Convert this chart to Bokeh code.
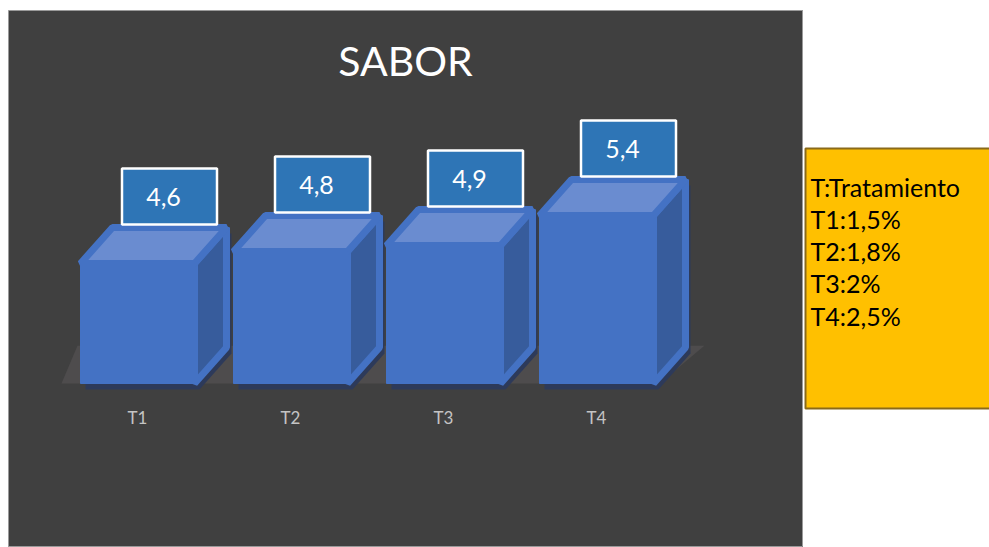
from bokeh.plotting import figure
from bokeh.layouts import row
from bokeh.models import Range1d
from bokeh.core.properties import value
from bokeh.embed import file_html
from bokeh.resources import INLINE

# ---- data ----
title_text = "SABOR"
categories = ["T1", "T2", "T3", "T4"]
values = [4.6, 4.8, 4.9, 5.4]
value_labels = ["4,6", "4,8", "4,9", "5,4"]
legend_lines = ["T:Tratamiento", "T1:1,5%", "T2:1,8%", "T3:2%", "T4:2,5%"]

# ---- layout constants ----
W1, W2, H = 803, 186, 547
LEFT, TOP = 8, 10
PX_X = 153.0   # pixels per category step
PX_Y = 60.0    # pixels per value unit
FLOOR = 2.6    # value at which the 3D floor sits
BASE_PX = 383  # page y of the floor front edge
X1_PX = 137    # page x of first bar centre


def xd(px):
    return 1 + (px - X1_PX) / PX_X


def yd(py):
    return FLOOR + (BASE_PX - py) / PX_Y


HW = 57 / PX_X          # half width of a bar front
DX = 32 / PX_X          # depth offset x
DY = 36 / PX_Y          # depth offset y

FONT = value("Lato")

p = figure(width=W1, height=H,
           x_range=Range1d(xd(LEFT), xd(W1)),
           y_range=Range1d(yd(H), yd(TOP)),
           x_axis_type=None, y_axis_type=None,
           output_backend="svg", toolbar_location=None,
           min_border_left=LEFT, min_border_right=0,
           min_border_bottom=0, min_border_top=TOP)
p.grid.visible = False
p.background_fill_color = "#404040"
p.border_fill_color = "white"
p.outline_line_color = "#9a9a9a"
p.outline_line_width = 1

xs = [i + 1 for i in range(len(categories))]

# floor
fl_l = xs[0] - 76 / PX_X
fl_r = xs[-1] + HW + 6 / PX_X
p.patch([fl_l, fl_r, fl_r + DX * 1.4, fl_l + DX * 0.5],
        [FLOOR, FLOOR, FLOOR + DY * 1.05, FLOOR + DY * 1.05],
        fill_color="#4e4c4d", line_color=None)

# shadows
sx, sy = 5 / PX_X, 6 / PX_Y
sh_x, sh_y = [], []
for xc, v in zip(xs, values):
    xl, xr = xc - HW, xc + HW
    sh_x.append([xl + sx, xr + sx, xr + DX + sx, xr + DX + sx, xl + DX + sx, xl + sx])
    sh_y.append([FLOOR - sy, FLOOR - sy, FLOOR + DY - sy, v + DY - sy, v + DY - sy, v - sy])
p.patches(sh_x, sh_y, fill_color="#2d3a5a", line_color=None)

# faces
sd_x, sd_y, tp_x, tp_y, fr_x, fr_y = [], [], [], [], [], []
for xc, v in zip(xs, values):
    xl, xr = xc - HW, xc + HW
    sd_x.append([xr, xr + DX, xr + DX, xr])
    sd_y.append([FLOOR, FLOOR + DY, v + DY, v])
    tp_x.append([xl, xr, xr + DX, xl + DX])
    tp_y.append([v, v, v + DY, v + DY])
    fr_x.append([xl, xr, xr, xl])
    fr_y.append([FLOOR, FLOOR, v, v])
p.patches(sd_x, sd_y, fill_color="#375c9c", line_color="#4472c4", line_width=7, line_join="bevel")
p.patches(tp_x, tp_y, fill_color="#6a8cd0", line_color="#4472c4", line_width=7, line_join="bevel")
p.patches(fr_x, fr_y, fill_color="#4472c4", line_color="#4472c4", line_width=1)

# value label boxes
box_x = [xc + DX for xc in xs]
box_y = [v + DY + 31 / PX_Y for v in values]
p.rect(x=box_x, y=box_y, width=95, height=56, width_units="screen", height_units="screen",
       fill_color="#2e75b6", line_color="white", line_width=2.5)
p.text(x=[bx - 6 / PX_X for bx in box_x], y=box_y, text=value_labels,
       text_font=FONT, text_font_size="25px", text_color="white",
       text_align="center", text_baseline="middle")

# category labels
p.text(x=xs, y=[yd(417)] * len(xs), text=categories,
       text_font=FONT, text_font_size="17px", text_color="#c4c4c4",
       text_align="center", text_baseline="middle")

# title
p.text(x=[xd(405)], y=[yd(60)], text=[title_text],
       text_font=FONT, text_font_size="41px", text_color="white",
       text_align="center", text_baseline="middle")

# ---- legend panel (frame aligned with the chart frame: y = H - page_y) ----
q = figure(width=W2, height=H, x_range=Range1d(0, W2), y_range=Range1d(0, H - TOP),
           x_axis_type=None, y_axis_type=None,
           output_backend="svg", toolbar_location=None,
           min_border_left=0, min_border_right=0,
           min_border_bottom=0, min_border_top=TOP)
q.grid.visible = False
q.outline_line_color = None
q.background_fill_color = "white"
q.border_fill_color = "white"
q.quad(left=[2], right=[W2 + 10], top=[H - 148], bottom=[H - 408],
       fill_color="#ffc000", line_color="#8a6a1a", line_width=2)
q.text(x=[7] * len(legend_lines),
       y=[H - (186 + 32.3 * i) for i in range(len(legend_lines))],
       text=legend_lines, text_font=FONT, text_font_size="25px",
       text_color="black", text_align="left", text_baseline="middle")

layout = row(p, q, spacing=0)
open("out.html", "w").write(file_html(layout, INLINE))
